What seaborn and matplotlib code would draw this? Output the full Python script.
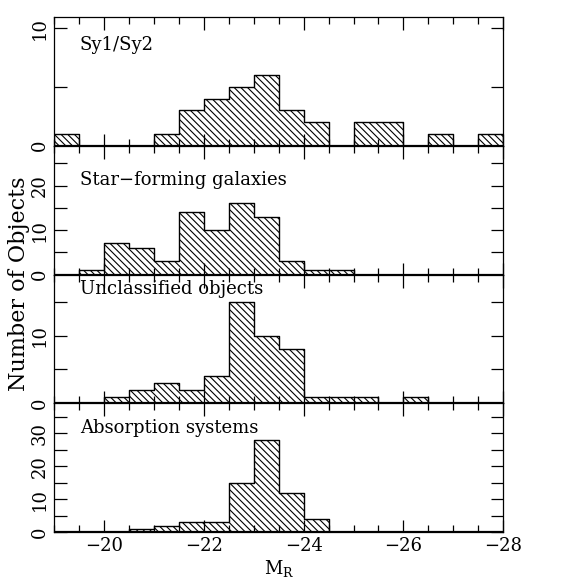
import numpy as np
import pandas as pd
import matplotlib
matplotlib.use("Agg")
import matplotlib.pyplot as plt
import seaborn as sns
from matplotlib.ticker import MultipleLocator

# Bin edges (M_R), width 0.5 mag
bin_edges = [-19.0, -19.5, -20.0, -20.5, -21.0, -21.5, -22.0, -22.5, -23.0, -23.5,
             -24.0, -24.5, -25.0, -25.5, -26.0, -26.5, -27.0, -27.5, -28.0]
bin_centers = [-19.25, -19.75, -20.25, -20.75, -21.25, -21.75, -22.25, -22.75, -23.25,
               -23.75, -24.25, -24.75, -25.25, -25.75, -26.25, -26.75, -27.25, -27.75]

sy1_sy2 = [1, 0, 0, 0, 1, 3, 4, 5, 6, 3, 2, 0, 2, 2, 0, 1, 0, 1]
star_forming = [0, 1, 7, 6, 3, 14, 10, 16, 13, 3, 1, 1, 0, 0, 0, 0, 0, 0]
unclassified = [0, 0, 1, 2, 3, 2, 4, 15, 10, 8, 1, 1, 1, 0, 1, 0, 0, 0]
absorption = [0, 0, 0, 1, 2, 3, 3, 15, 28, 12, 4, 0, 0, 0, 0, 0, 0, 0]

panel_names = ["Sy1/Sy2", "Star\u2212forming galaxies", "Unclassified objects", "Absorption systems"]
panel_series = [sy1_sy2, star_forming, unclassified, absorption]
panel_ymax = [11, 29, 19, 39]
panel_ylabels = [[0, 10], [0, 10, 20], [0, 10], [0, 10, 20, 30]]
label_y = [0.78, 0.73, 0.89, 0.81]

xtick_labels = [-20, -22, -24, -26, -28]

sns.set_theme(style="ticks")
plt.rcParams['font.family'] = ['DejaVu Serif']
plt.rcParams['axes.unicode_minus'] = True
plt.rcParams['hatch.linewidth'] = 0.8
for k in ['text.color', 'axes.labelcolor', 'xtick.color', 'ytick.color',
          'xtick.labelcolor', 'ytick.labelcolor', 'axes.edgecolor']:
    plt.rcParams[k] = 'black'

fig = plt.figure(figsize=(5.77, 5.84), dpi=100)
left, width = 0.094, 0.778
top, bottom = 0.9714, 0.0885
h = (top - bottom) / 4

edges_sorted = sorted(bin_edges)
axes = []
for i, (name, vals) in enumerate(zip(panel_names, panel_series)):
    ax = fig.add_axes([left, top - (i + 1) * h, width, h])
    axes.append(ax)
    df = pd.DataFrame({"M": bin_centers, "n": vals})
    sns.histplot(data=df, x="M", weights="n", bins=edges_sorted, element="step",
                 fill=True, color="black", linewidth=1.0, ax=ax)
    for coll in ax.collections:
        coll.set_facecolor("none")
        coll.set_edgecolor("black")
        coll.set_hatch("\\\\\\\\\\")
        coll.set_linewidth(1.0)
        coll.set_alpha(1.0)
    ax.set_xlim(-19, -28)
    ax.set_ylim(0, panel_ymax[i])
    ax.axhline(0, color="black", lw=1.6, zorder=5)
    ax.xaxis.set_major_locator(MultipleLocator(2))
    ax.xaxis.set_minor_locator(MultipleLocator(0.5))
    ax.tick_params(axis="both", which="both", direction="in", top=True, right=True,
                   color="black", width=0.9)
    ax.tick_params(axis="x", which="major", length=9)
    ax.tick_params(axis="x", which="minor", length=5)
    ax.tick_params(axis="y", which="major", length=9, labelsize=13, pad=4)
    yt = list(range(0, panel_ymax[i] + 1, 5))
    ax.set_yticks(yt)
    ax.set_yticklabels([str(v) if v in panel_ylabels[i] else "" for v in yt],
                       rotation=90, va="center")
    for s in ax.spines.values():
        s.set_linewidth(0.9)
        s.set_color("black")
    ax.set_ylabel("")
    ax.set_xlabel("")
    ax.text(0.057, label_y[i], name, transform=ax.transAxes, fontsize=13,
            ha="left", va="center", color="black")
    if i < 3:
        ax.tick_params(axis="x", labelbottom=False)
    else:
        ax.set_xticks(xtick_labels)
        ax.set_xticklabels(["\u2212" + str(abs(v)) for v in xtick_labels], fontsize=13)
        ax.set_xlabel("M$_\\mathregular{R}$", fontsize=13, labelpad=2)

fig.text(0.033, 0.514, "Number of Objects", rotation=90, ha="center", va="center",
         fontsize=16, color="black")

fig.savefig("out.png", dpi=100, facecolor="white")
